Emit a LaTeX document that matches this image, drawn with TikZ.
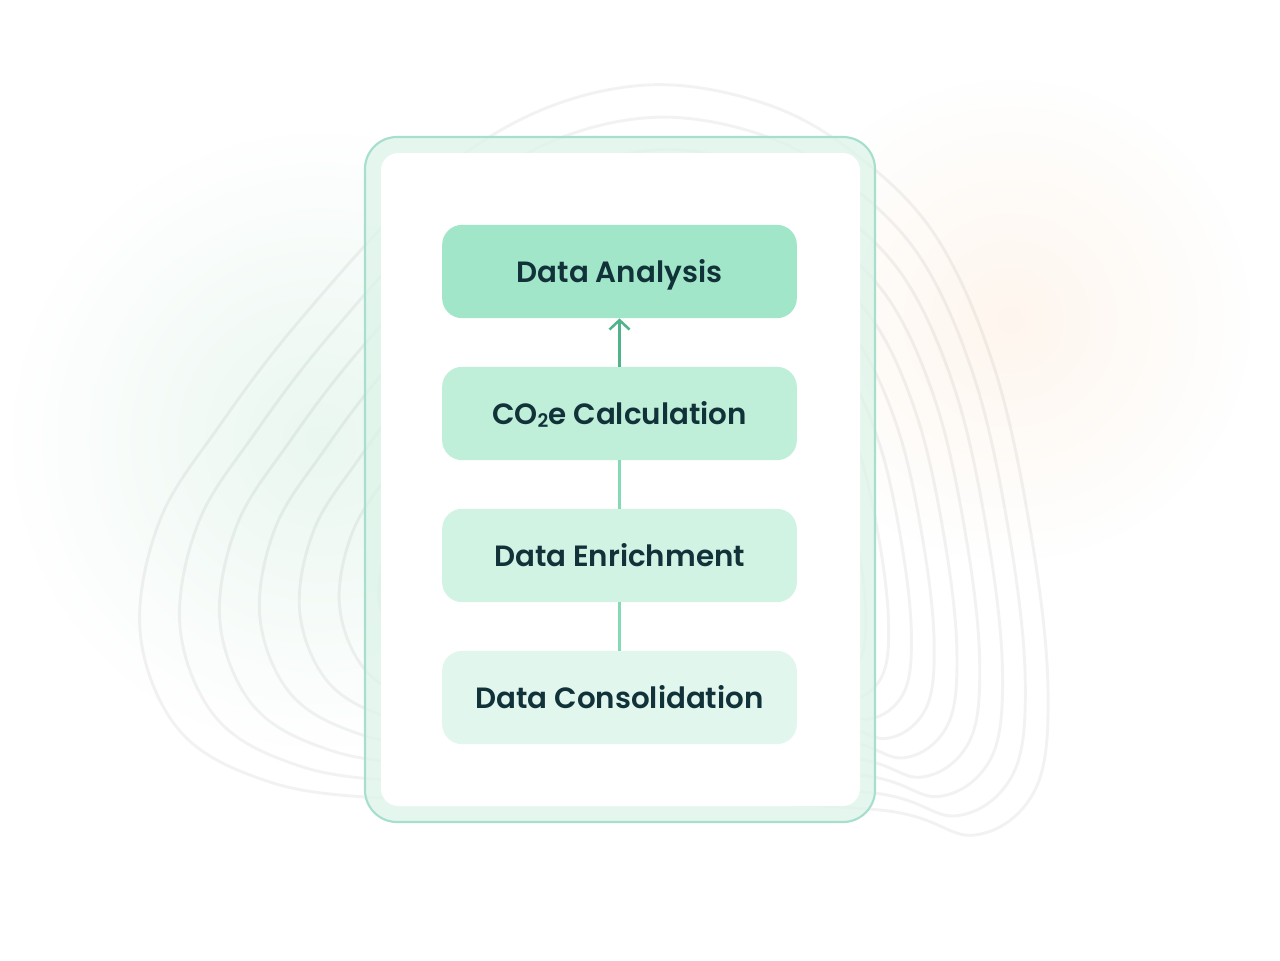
\documentclass[tikz,border=0pt]{standalone}
\usepackage{fontspec}
\newfontfamily\lab{Poppins SemiBold}
\usetikzlibrary{arrows.meta,fadings}
\definecolor{txtc}{HTML}{12323A}
\definecolor{arrc}{HTML}{4FB38B}
\definecolor{lnkc}{HTML}{86D9B5}
\definecolor{framed}{HTML}{A6DFCD}
\definecolor{framef}{HTML}{DDF4E9}
\definecolor{fillA}{HTML}{A1E6C9}
\definecolor{fillB}{HTML}{BFEED9}
\definecolor{fillC}{HTML}{D1F3E4}
\definecolor{fillD}{HTML}{E1F6ED}
\definecolor{glowg}{HTML}{EAF7F0}
\definecolor{glowp}{HTML}{FEF6EE}
\tikzfading[name=glowfade, inner color=transparent!0, outer color=transparent!100]
\tikzset{
  stagebox/.style={rounded corners=15pt, minimum width=266pt, minimum height=70pt,
    inner sep=0pt, text height=16.3pt, text depth=0pt, text=txtc,
    font=\lab\fontsize{22}{26}\selectfont},
  contour/.style={draw=black, draw opacity=0.05, line width=2.2pt},
  arr/.style={draw=arrc, line width=1.9pt, -{Straight Barb[length=7pt,width=15pt]}},
  lnk/.style={draw=lnkc, line width=1.9pt},
}
\begin{document}
\begin{tikzpicture}[x=0.75pt,y=-0.75pt]
\useasboundingbox (0,0) rectangle (1280,960);
\fill[white] (0,0) rectangle (1280,960);
% soft glows
\fill[glowg, path fading=glowfade] (320,440) circle[radius=230pt];
\fill[glowp, path fading=glowfade] (1010,320) circle[radius=180pt];
% contour lines
\foreach \f in {1,0.931,0.862,0.793,0.724,0.655,0.586,0.517,0.448,0.379}{
  \draw[contour, scale around={\f:(718,555)}] plot[smooth cycle, tension=0.6] coordinates {
    (647,85) (760,102) (850,150) (935,235) (995,370) (1032,540) (1048,690)
    (1035,790) (975,835) (880,810) (620,800) (365,797) (250,775) (175,725)
    (140,630) (160,520) (220,425) (300,320) (420,190) (530,115)};
}
% frame and card
\node[draw=framed, line width=1.6pt, fill=framef, fill opacity=0.75,
      rounded corners=24pt, minimum width=382.5pt, minimum height=513.75pt,
      inner sep=0pt] (frame) at (620,479.5) {};
\node[fill=white, rounded corners=13pt, minimum width=359.25pt,
      minimum height=489.75pt, inner sep=0pt] (card) at (620.5,479.5) {};
% stages
\node[stagebox, fill=fillA] (ana) at (619.5,271.5) {Data Analysis};
\node[stagebox, fill=fillB] (co2) at (619.5,413.5) {CO\raisebox{-0.12em}{\fontsize{14}{14}\selectfont 2}e Calculation};
\node[stagebox, fill=fillC] (enr) at (619.5,555.5) {Data Enrichment};
\node[stagebox, fill=fillD] (con) at (619.5,697.5) {Data Consolidation};
% connectors
\draw[arr] (co2.north) -- (ana.south);
\draw[lnk] (enr.north) -- (co2.south);
\draw[lnk] (con.north) -- (enr.south);
\end{tikzpicture}
\end{document}
